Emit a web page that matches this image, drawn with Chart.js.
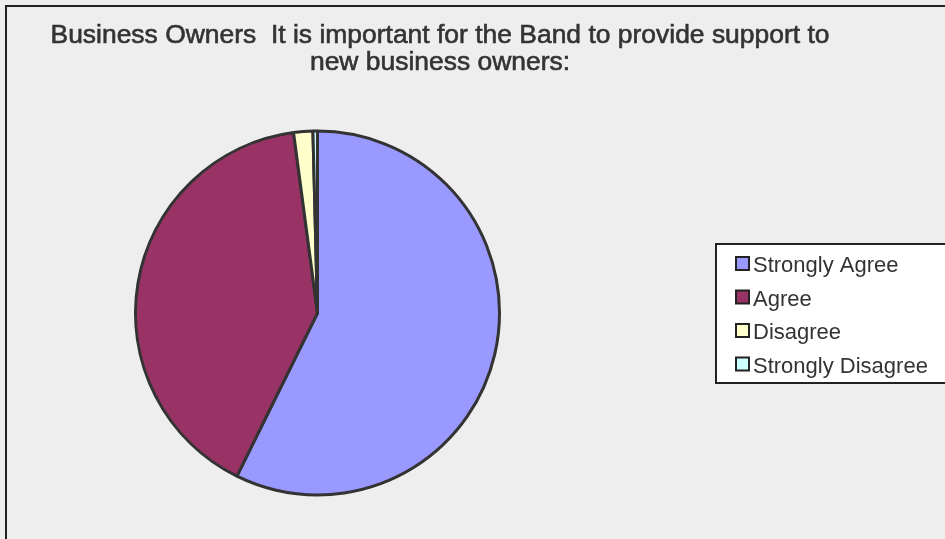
<!DOCTYPE html>
<html>
<head>
<meta charset="utf-8">
<script src="https://cdn.jsdelivr.net/npm/chart.js@4.4.1/dist/chart.umd.min.js"></script>
<style>
  html, body { margin: 0; padding: 0; background: #eeeeee; }
  #wrap { width: 945px; height: 539px; }
</style>
</head>
<body>
<div id="wrap"><canvas id="pieChart" width="945" height="539"></canvas></div>
<script>
'use strict';

// answers and their shares (%)
const labels = ['Strongly Agree', 'Agree', 'Disagree', 'Strongly Disagree'];
const shares = [57.3, 40.6, 1.7, 0.4];
const colors = ['#9999FF', '#993366', '#FFFFCC', '#CCFFFF'];
const titleLines = ['Business Owners  It is important for the Band to provide support to', 'new business owners:'];

// background, frame, title and legend
const decor = {
  id: 'decor',
  beforeDraw(chart) {
    const ctx = chart.ctx;
    ctx.save();
    ctx.fillStyle = '#eeeeee';
    ctx.fillRect(0, 0, 945, 539);
    ctx.strokeStyle = '#222';
    ctx.lineWidth = 2;
    ctx.beginPath();
    ctx.moveTo(6, 545);
    ctx.lineTo(6, 6);
    ctx.lineTo(950, 6);
    ctx.stroke();
    ctx.restore();
  },
  afterDraw(chart) {
    const ctx = chart.ctx;
    ctx.save();
    // title (condensed look, like the original)
    ctx.fillStyle = '#333';
    ctx.strokeStyle = '#333';
    ctx.lineWidth = 0.6;
    ctx.font = '26px "Liberation Sans", Arial, sans-serif';
    ctx.textBaseline = 'alphabetic';
    const w1 = ctx.measureText(titleLines[0]).width;
    const sx = 779 / w1;
    const cx = 440;
    [43, 70].forEach(function(y, i) {
      const w = ctx.measureText(titleLines[i]).width;
      ctx.save();
      ctx.translate(cx, y);
      ctx.scale(sx, 1);
      ctx.fillText(titleLines[i], -w / 2, 0);
      ctx.strokeText(titleLines[i], -w / 2, 0);
      ctx.restore();
    });

    // legend
    ctx.fillStyle = '#ffffff';
    ctx.fillRect(716, 244, 232, 139);
    ctx.strokeStyle = '#222';
    ctx.lineWidth = 2;
    ctx.strokeRect(716, 244, 232, 139);
    ctx.font = '22px "Liberation Sans", Arial, sans-serif';
    const items = chart.data.labels;
    const bg = chart.data.datasets[0].backgroundColor;
    items.forEach(function(lab, i) {
      const base = 272 + i * 33.5;
      ctx.fillStyle = bg[i];
      ctx.fillRect(736, base - 15, 13, 13);
      ctx.strokeStyle = '#222';
      ctx.lineWidth = 2;
      ctx.strokeRect(736, base - 15, 13, 13);
      ctx.fillStyle = '#333';
      ctx.fillText(lab, 753, base);
    });
    ctx.restore();
  }
};

new Chart(document.getElementById('pieChart').getContext('2d'), {
  type: 'pie',
  data: {
    labels: labels,
    datasets: [{
      data: shares,
      backgroundColor: colors,
      borderColor: '#333',
      borderWidth: 3,
      borderAlign: 'center'
    }]
  },
  options: {
    responsive: false,
    animation: false,
    layout: { padding: { left: 134, right: 444, top: 129, bottom: 42 } },
    plugins: {
      legend: { display: false },
      title: { display: false },
      tooltip: { enabled: false }
    }
  },
  plugins: [decor]
});
</script>
</body>
</html>
